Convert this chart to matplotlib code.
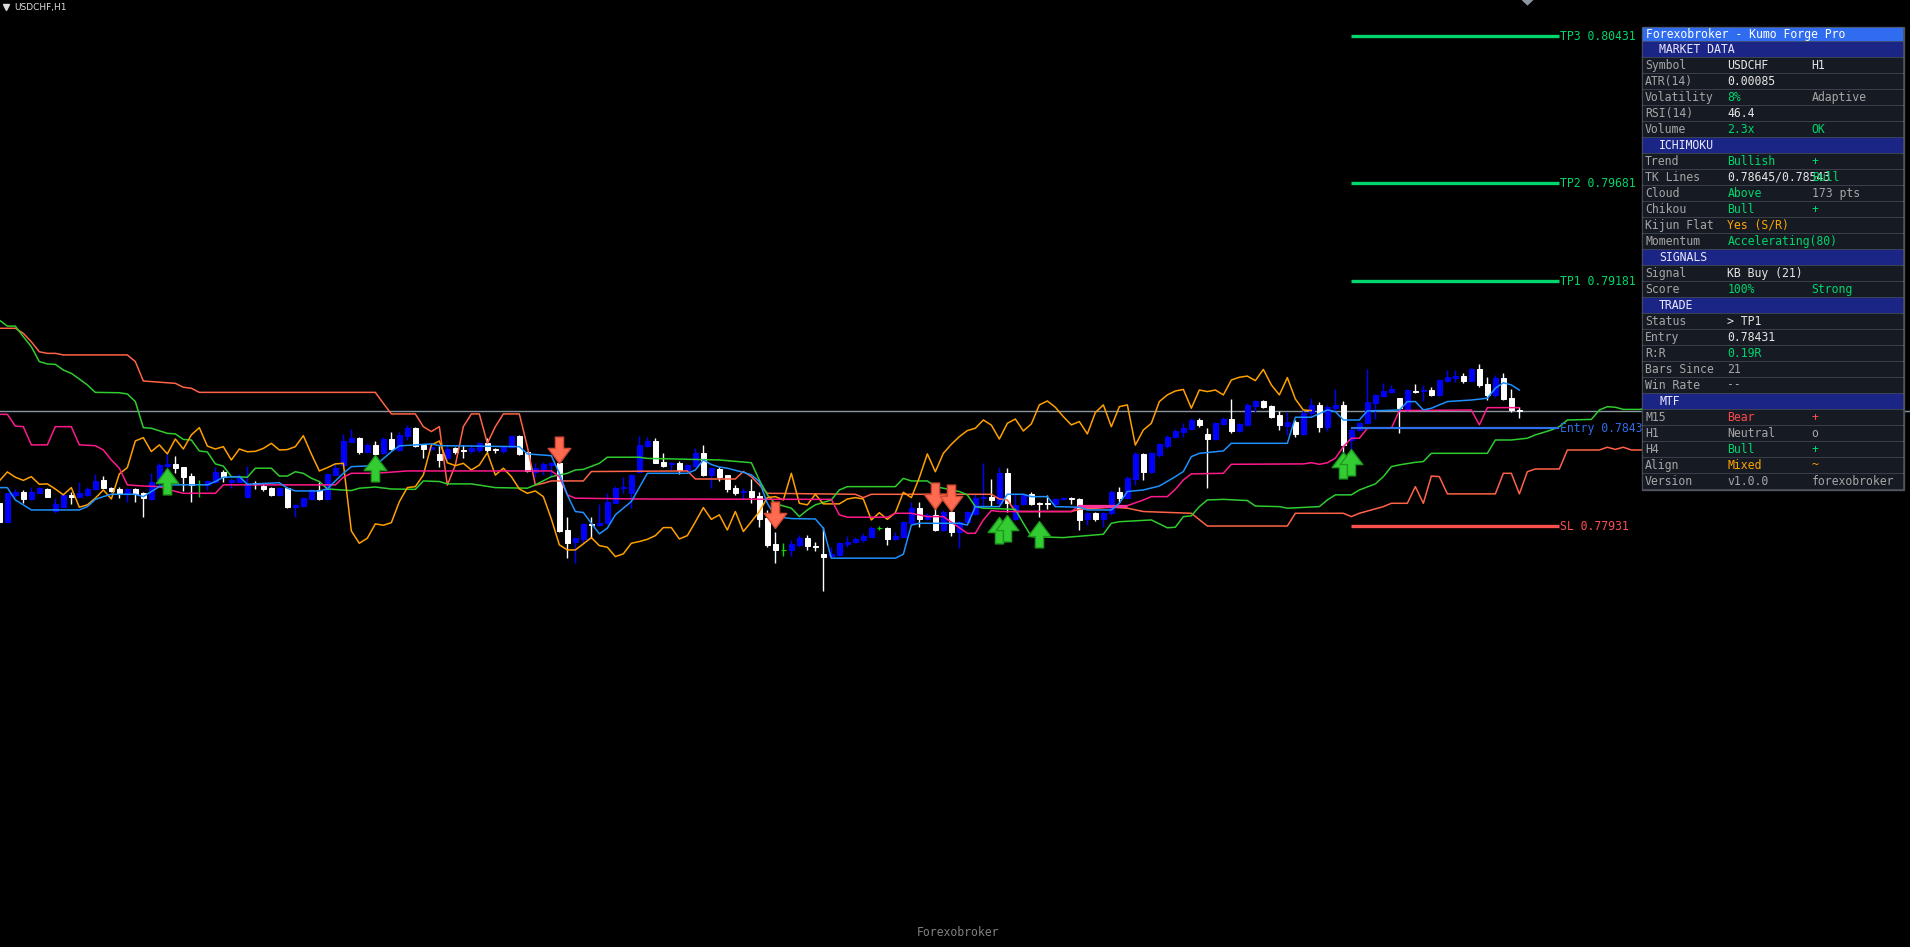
import numpy as np
import matplotlib.pyplot as plt
from matplotlib.path import Path
from matplotlib.patches import Rectangle, Polygon

plt.rcParams['font.family'] = ['DejaVu Sans Mono']

# USDCHF H1 candles, bar 0 = leftmost visible bar
opens = [
    0.78047, 0.77954, 0.78090, 0.78107, 0.78069, 0.78101, 0.78120, 0.78010, 0.78030, 0.78090,
    0.78081, 0.78090, 0.78118, 0.78166, 0.78124, 0.78120, 0.78093, 0.78120, 0.78098, 0.78069,
    0.78152, 0.78239, 0.78249, 0.78232, 0.78186, 0.78147, 0.78141, 0.78156, 0.78207, 0.78154,
    0.78158, 0.78078, 0.78152, 0.78137, 0.78127, 0.78090, 0.78127, 0.78030, 0.78035, 0.78069,
    0.78115, 0.78069, 0.78192, 0.78243, 0.78362, 0.78382, 0.78311, 0.78345, 0.78302, 0.78375,
    0.78319, 0.78390, 0.78433, 0.78344, 0.78324, 0.78297, 0.78276, 0.78327, 0.78319, 0.78314,
    0.78319, 0.78353, 0.78324, 0.78314, 0.78336, 0.78390, 0.78310, 0.78209, 0.78222, 0.78242,
    0.78251, 0.77911, 0.77852, 0.77863, 0.77942, 0.77935, 0.77945, 0.78050, 0.78125, 0.78098,
    0.78209, 0.78341, 0.78365, 0.78259, 0.78246, 0.78254, 0.78217, 0.78237, 0.78305, 0.78191,
    0.78222, 0.78191, 0.78127, 0.78105, 0.78110, 0.78084, 0.77971, 0.77840, 0.77809, 0.77809,
    0.77835, 0.77872, 0.77831, 0.77789, 0.77778, 0.77784, 0.77840, 0.77852, 0.77860, 0.77877,
    0.77923, 0.77923, 0.77865, 0.77874, 0.77948, 0.78025, 0.77965, 0.77988, 0.77911, 0.78005,
    0.77903, 0.77953, 0.77991, 0.78073, 0.78081, 0.78047, 0.78203, 0.77965, 0.78044, 0.78093,
    0.78050, 0.78047, 0.78044, 0.78069, 0.78076, 0.78069, 0.77965, 0.77999, 0.77965, 0.77996,
    0.78103, 0.78076, 0.78171, 0.78299, 0.78208, 0.78294, 0.78341, 0.78384, 0.78412, 0.78424,
    0.78472, 0.78401, 0.78375, 0.78452, 0.78477, 0.78416, 0.78447, 0.78545, 0.78569, 0.78543,
    0.78498, 0.78443, 0.78464, 0.78401, 0.78506, 0.78549, 0.78438, 0.78535, 0.78549, 0.78370,
    0.78421, 0.78455, 0.78560, 0.78594, 0.78615, 0.78583, 0.78523, 0.78622, 0.78620, 0.78625,
    0.78600, 0.78671, 0.78688, 0.78696, 0.78673, 0.78730, 0.78654, 0.78600, 0.78688, 0.78583,
    0.78523,
]
highs = [
    0.78050, 0.78100, 0.78118, 0.78115, 0.78129, 0.78132, 0.78127, 0.78073, 0.78101, 0.78107,
    0.78158, 0.78132, 0.78195, 0.78186, 0.78132, 0.78129, 0.78124, 0.78127, 0.78105, 0.78200,
    0.78251, 0.78309, 0.78288, 0.78234, 0.78200, 0.78166, 0.78166, 0.78234, 0.78217, 0.78175,
    0.78197, 0.78239, 0.78161, 0.78144, 0.78132, 0.78132, 0.78132, 0.78044, 0.78078, 0.78120,
    0.78158, 0.78200, 0.78251, 0.78399, 0.78426, 0.78387, 0.78353, 0.78365, 0.78387, 0.78409,
    0.78410, 0.78446, 0.78436, 0.78348, 0.78344, 0.78341, 0.78339, 0.78336, 0.78344, 0.78348,
    0.78358, 0.78378, 0.78327, 0.78339, 0.78395, 0.78395, 0.78310, 0.78251, 0.78259, 0.78259,
    0.78251, 0.77979, 0.77877, 0.77945, 0.77979, 0.78042, 0.78098, 0.78135, 0.78183, 0.78195,
    0.78390, 0.78387, 0.78378, 0.78302, 0.78259, 0.78263, 0.78248, 0.78327, 0.78344, 0.78231,
    0.78231, 0.78191, 0.78141, 0.78127, 0.78170, 0.78107, 0.78013, 0.77903, 0.77843, 0.77860,
    0.77886, 0.77886, 0.77852, 0.77928, 0.77826, 0.77852, 0.77880, 0.77877, 0.77894, 0.77931,
    0.77933, 0.77928, 0.77903, 0.77958, 0.78056, 0.78056, 0.77996, 0.78027, 0.78013, 0.78013,
    0.77958, 0.78010, 0.78093, 0.78251, 0.78171, 0.78234, 0.78226, 0.78098, 0.78101, 0.78106,
    0.78054, 0.78090, 0.78076, 0.78081, 0.78081, 0.78073, 0.78005, 0.78005, 0.78005, 0.78115,
    0.78129, 0.78186, 0.78311, 0.78305, 0.78307, 0.78353, 0.78396, 0.78424, 0.78455, 0.78481,
    0.78481, 0.78433, 0.78464, 0.78489, 0.78577, 0.78455, 0.78557, 0.78574, 0.78574, 0.78549,
    0.78518, 0.78515, 0.78472, 0.78523, 0.78583, 0.78566, 0.78549, 0.78630, 0.78569, 0.78430,
    0.78464, 0.78732, 0.78605, 0.78659, 0.78651, 0.78583, 0.78628, 0.78654, 0.78651, 0.78642,
    0.78680, 0.78727, 0.78727, 0.78713, 0.78735, 0.78758, 0.78693, 0.78702, 0.78710, 0.78628,
    0.78540,
]
lows = [
    0.77950, 0.77950, 0.78081, 0.78047, 0.78064, 0.78098, 0.78078, 0.77996, 0.78027, 0.78044,
    0.78078, 0.78086, 0.78115, 0.78124, 0.78103, 0.78073, 0.78056, 0.78052, 0.77976, 0.78064,
    0.78132, 0.78234, 0.78200, 0.78112, 0.78052, 0.78078, 0.78115, 0.78152, 0.78158, 0.78124,
    0.78154, 0.78073, 0.78120, 0.78112, 0.78086, 0.78086, 0.78022, 0.77976, 0.78030, 0.78064,
    0.78064, 0.78064, 0.78188, 0.78239, 0.78358, 0.78299, 0.78307, 0.78294, 0.78299, 0.78321,
    0.78316, 0.78370, 0.78336, 0.78280, 0.78314, 0.78231, 0.78263, 0.78299, 0.78280, 0.78305,
    0.78310, 0.78305, 0.78302, 0.78305, 0.78327, 0.78293, 0.78209, 0.78183, 0.78191, 0.78183,
    0.77903, 0.77767, 0.77741, 0.77843, 0.77869, 0.77933, 0.77942, 0.78047, 0.78098, 0.78022,
    0.78203, 0.78336, 0.78251, 0.78231, 0.78217, 0.78195, 0.78214, 0.78234, 0.78188, 0.78124,
    0.78163, 0.78107, 0.78090, 0.78067, 0.78050, 0.77928, 0.77826, 0.77744, 0.77778, 0.77778,
    0.77826, 0.77809, 0.77806, 0.77602, 0.77772, 0.77778, 0.77826, 0.77843, 0.77852, 0.77874,
    0.77911, 0.77835, 0.77860, 0.77870, 0.77945, 0.77925, 0.77962, 0.77908, 0.77908, 0.77880,
    0.77818, 0.77950, 0.77988, 0.78030, 0.78033, 0.78030, 0.78005, 0.77962, 0.78039, 0.78039,
    0.77976, 0.78016, 0.78039, 0.78066, 0.78044, 0.77911, 0.77936, 0.77958, 0.77928, 0.77988,
    0.78056, 0.78073, 0.78140, 0.78166, 0.78203, 0.78285, 0.78328, 0.78379, 0.78387, 0.78421,
    0.78438, 0.78127, 0.78370, 0.78447, 0.78404, 0.78409, 0.78441, 0.78515, 0.78532, 0.78484,
    0.78421, 0.78396, 0.78387, 0.78396, 0.78489, 0.78412, 0.78418, 0.78515, 0.78310, 0.78310,
    0.78418, 0.78452, 0.78475, 0.78588, 0.78608, 0.78404, 0.78520, 0.78608, 0.78569, 0.78596,
    0.78596, 0.78668, 0.78668, 0.78659, 0.78669, 0.78642, 0.78574, 0.78591, 0.78574, 0.78515,
    0.78484,
]
closes = [
    0.77954, 0.78098, 0.78107, 0.78069, 0.78107, 0.78127, 0.78081, 0.78044, 0.78090, 0.78081,
    0.78098, 0.78120, 0.78161, 0.78127, 0.78112, 0.78093, 0.78120, 0.78095, 0.78073, 0.78158,
    0.78243, 0.78249, 0.78229, 0.78183, 0.78139, 0.78147, 0.78161, 0.78207, 0.78180, 0.78164,
    0.78183, 0.78144, 0.78146, 0.78120, 0.78090, 0.78127, 0.78027, 0.78039, 0.78073, 0.78115,
    0.78069, 0.78197, 0.78229, 0.78365, 0.78382, 0.78311, 0.78345, 0.78299, 0.78375, 0.78324,
    0.78396, 0.78433, 0.78339, 0.78324, 0.78336, 0.78268, 0.78324, 0.78310, 0.78312, 0.78327,
    0.78353, 0.78319, 0.78321, 0.78336, 0.78392, 0.78299, 0.78212, 0.78229, 0.78248, 0.78251,
    0.77906, 0.77843, 0.77869, 0.77942, 0.77935, 0.77948, 0.78055, 0.78127, 0.78132, 0.78191,
    0.78344, 0.78365, 0.78254, 0.78239, 0.78251, 0.78217, 0.78242, 0.78305, 0.78191, 0.78226,
    0.78183, 0.78120, 0.78098, 0.78110, 0.78081, 0.77967, 0.77835, 0.77809, 0.77809, 0.77840,
    0.77872, 0.77831, 0.77823, 0.77775, 0.77789, 0.77843, 0.77852, 0.77863, 0.77882, 0.77923,
    0.77923, 0.77865, 0.77882, 0.77952, 0.78025, 0.77965, 0.77988, 0.77911, 0.78005, 0.77903,
    0.77953, 0.78005, 0.78076, 0.78081, 0.78064, 0.78200, 0.78047, 0.78039, 0.78093, 0.78044,
    0.78044, 0.78044, 0.78069, 0.78076, 0.78069, 0.77962, 0.77999, 0.77965, 0.77999, 0.78103,
    0.78076, 0.78178, 0.78299, 0.78208, 0.78302, 0.78348, 0.78387, 0.78418, 0.78430, 0.78472,
    0.78446, 0.78375, 0.78455, 0.78477, 0.78416, 0.78452, 0.78549, 0.78569, 0.78537, 0.78489,
    0.78447, 0.78464, 0.78401, 0.78510, 0.78549, 0.78438, 0.78540, 0.78549, 0.78344, 0.78421,
    0.78455, 0.78566, 0.78600, 0.78620, 0.78628, 0.78532, 0.78625, 0.78617, 0.78625, 0.78600,
    0.78676, 0.78690, 0.78696, 0.78673, 0.78730, 0.78651, 0.78600, 0.78688, 0.78579, 0.78523,
    0.78520,
]

# Ichimoku lines, read as vertices (bar, price in points of 1e-5)
tenkan_bars = [0, 1, 2, 3, 4, 10, 11, 12, 13, 14, 17, 18, 19, 20, 21, 26, 27, 28, 30, 31,
               35, 36, 37, 40, 41, 42, 43, 44, 47, 48, 49, 50, 54, 55, 65, 66, 69, 70, 71, 72,
               73, 74, 75, 76, 77, 78, 79, 81, 86, 87, 88, 89, 90, 91, 93, 94, 95, 96, 97, 99,
               102, 103, 104, 112, 113, 114, 115, 120, 121, 122, 125, 126, 128, 129, 131, 132,
               135, 136, 139, 140, 141, 143, 145, 147, 148, 149, 150, 153, 154, 161, 162, 164,
               166, 167, 168, 170, 171, 175, 176, 177, 178, 179, 181, 184, 186, 187, 188, 189, 190]
tenkan_pts = [78127, 78127, 78064, 78039, 78013, 78013, 78030, 78067, 78081, 78093,
              78093, 78081, 78107, 78132, 78141, 78141, 78158, 78180, 78183, 78144,
              78152, 78124, 78110, 78110, 78120, 78161, 78200, 78234, 78239, 78275,
              78310, 78340, 78350, 78341, 78336, 78299, 78290, 78200, 78090, 78005,
              78000, 77945, 77891, 77920, 77988, 78022, 78056, 78200, 78200, 78217,
              78268, 78245, 78232, 78226, 78205, 78192, 78158, 78047, 77979, 77969,
              77967, 77920, 77767, 77767, 77787, 77936, 77945, 77945, 77936, 78030,
              78030, 78093, 78093, 78081, 78081, 78030, 78027, 78013, 78013, 78047,
              78107, 78115, 78135, 78183, 78209, 78285, 78302, 78314, 78353, 78353,
              78486, 78486, 78523, 78515, 78472, 78472, 78518, 78523, 78566, 78566,
              78523, 78532, 78566, 78574, 78583, 78634, 78662, 78651, 78625]

kijun_bars = [0, 1, 2, 3, 4, 6, 7, 9, 10, 12, 13, 14, 15, 16, 18, 20, 21, 23, 27, 28,
              42, 43, 44, 47, 51, 69, 70, 71, 72, 80, 104, 105, 106, 111, 112, 114, 116, 118, 121, 122,
              123, 124, 125, 134, 135, 141, 143, 144, 146, 147, 148, 149, 153, 154, 163, 164, 165, 166, 167,
              168, 169, 170, 171, 174, 175, 184, 185, 186, 190]
kijun_pts = [78501, 78501, 78441, 78438, 78345, 78345, 78438, 78438, 78345, 78341,
             78319, 78268, 78226, 78141, 78135, 78132, 78118, 78098, 78098, 78141,
             78141, 78180, 78200, 78200, 78212, 78212, 78183, 78090, 78073, 78069,
             78067, 77988, 77976, 77976, 77996, 77996, 77979, 77979, 77894, 77894,
             77962, 78010, 78005, 78005, 78035, 78035, 78064, 78081, 78081, 78118,
             78166, 78197, 78200, 78246, 78248, 78254, 78246, 78254, 78277, 78336,
             78379, 78379, 78430, 78430, 78520, 78523, 78447, 78535, 78535]
kijun_flat_bars = [135, 141]
kijun_flat_price = 0.78035

span_a_bars = [0, 1, 2, 3, 4, 5, 6, 7, 8, 9, 10, 11, 12, 15, 16, 17, 18, 19, 21, 22,
               23, 24, 25, 26, 27, 28, 29, 31, 32, 34, 35, 36, 37, 38, 39, 40, 41, 44, 45, 47,
               49, 52, 53, 55, 56, 59, 62, 66, 67, 69, 71, 72, 73, 75, 76, 80, 81, 90, 94, 95,
               96, 97, 99, 100, 101, 102, 104, 105, 106, 112, 113, 114, 116, 117, 118, 120, 121, 122, 123, 127,
               128, 129, 133, 138, 139, 140, 144, 146, 147, 148, 149, 150, 151, 153, 156, 157, 160, 161, 165, 166,
               167, 169, 170, 172, 173, 174, 175, 177, 178, 179, 186, 187, 189, 191, 192, 194, 195, 196, 199, 200,
               201, 202, 203, 205, 206, 216]
span_a_pts = [78982, 78951, 78951, 78897, 78846, 78770, 78758, 78756, 78727, 78710,
              78681, 78651, 78613, 78611, 78605, 78566, 78433, 78430, 78404, 78401,
              78373, 78370, 78314, 78309, 78248, 78237, 78183, 78180, 78226, 78226,
              78186, 78186, 78208, 78200, 78175, 78158, 78120, 78112, 78124, 78130,
              78120, 78118, 78161, 78158, 78146, 78146, 78127, 78124, 78141, 78183,
              78200, 78217, 78220, 78251, 78282, 78282, 78276, 78268, 78254, 78166,
              78090, 78045, 78022, 77979, 78013, 78039, 78064, 78115, 78132, 78132,
              78174, 78161, 78161, 78132, 78124, 78107, 78090, 78030, 78022, 78016,
              77945, 77877, 77872, 77889, 77945, 77953, 77962, 77922, 77925, 77979,
              77983, 78030, 78064, 78067, 78061, 78033, 78030, 78022, 78030, 78064,
              78090, 78090, 78115, 78146, 78183, 78234, 78243, 78256, 78260, 78302,
              78302, 78370, 78370, 78379, 78396, 78421, 78438, 78472, 78475, 78523,
              78540, 78537, 78526, 78526, 78532, 78540]

span_b_bars = [0, 2, 3, 4, 5, 6, 7, 8, 16, 17, 18, 19, 22, 23, 24, 25, 47, 48, 49, 52,
               53, 54, 55, 56, 57, 58, 59, 60, 61, 62, 63, 65, 66, 67, 68, 69, 73, 74, 86, 87,
               92, 93, 94, 96, 107, 108, 109, 124, 125, 126, 127, 134, 135, 139, 141, 143, 147, 149, 151, 161,
               162, 168, 169, 170, 173, 174, 176, 177, 178, 179, 180, 181, 187, 188, 189, 190, 191, 192, 195, 196,
               200, 201, 202, 203, 204, 216]
span_b_pts = [78940, 78940, 78914, 78871, 78820, 78812, 78812, 78804, 78804, 78770,
              78671, 78668, 78659, 78639, 78634, 78613, 78613, 78557, 78503, 78503,
              78438, 78413, 78438, 78140, 78242, 78438, 78503, 78503, 78353, 78438,
              78503, 78503, 78336, 78140, 78149, 78161, 78161, 78209, 78212, 78171,
              78171, 78209, 78183, 78098, 78093, 78076, 78093, 78093, 78069, 78064,
              78005, 78005, 78016, 78027, 78022, 78005, 77999, 77996, 77931, 77931,
              77996, 77996, 77979, 77996, 78030, 78047, 78047, 78132, 78047, 78186,
              78183, 78095, 78095, 78200, 78200, 78095, 78208, 78222, 78222, 78319,
              78319, 78333, 78322, 78333, 78319, 78319]

chikou_shift = 26

# signal arrows (bar, tip price)
buy_bars = [21, 47, 125, 126, 130, 168, 169]
buy_prices = [0.78229, 0.78294, 0.77979, 0.77987, 0.77958, 0.78310, 0.78323]
sell_bars = [70, 97, 117, 119]
sell_prices = [0.78253, 0.77921, 0.78018, 0.78008]

# trade levels
level_names = ["TP3", "TP2", "TP1", "Entry", "SL"]
level_prices = [0.80431, 0.79681, 0.79181, 0.78431, 0.77931]
signal_bar = 169
level_end_bar = 195

GREEN = '#00d66b'
WHITE = '#e6e6e6'
GRAY = '#a6a6a6'
ORANGE = '#ffa500'
RED = '#ff4a4a'

panel_title = "Forexobroker - Kumo Forge Pro"
panel_rows = [
    ("MARKET DATA", None, None, None, None),
    ("Symbol", "USDCHF", "H1", WHITE, WHITE),
    ("ATR(14)", "0.00085", "", WHITE, WHITE),
    ("Volatility", "8%", "Adaptive", GREEN, GRAY),
    ("RSI(14)", "46.4", "", WHITE, WHITE),
    ("Volume", "2.3x", "OK", GREEN, GREEN),
    ("ICHIMOKU", None, None, None, None),
    ("Trend", "Bullish", "+", GREEN, GREEN),
    ("TK Lines", "0.78645/0.78543", "Bull", WHITE, GREEN),
    ("Cloud", "Above", "173 pts", GREEN, GRAY),
    ("Chikou", "Bull", "+", GREEN, GREEN),
    ("Kijun Flat", "Yes (S/R)", "", ORANGE, ORANGE),
    ("Momentum", "Accelerating(80)", "", GREEN, GREEN),
    ("SIGNALS", None, None, None, None),
    ("Signal", "KB Buy (21)", "", WHITE, WHITE),
    ("Score", "100%", "Strong", GREEN, GREEN),
    ("TRADE", None, None, None, None),
    ("Status", "> TP1", "", WHITE, WHITE),
    ("Entry", "0.78431", "", WHITE, WHITE),
    ("R:R", "0.19R", "", GREEN, GREEN),
    ("Bars Since", "21", "", GRAY, GRAY),
    ("Win Rate", "--", "", GRAY, GRAY),
    ("MTF", None, None, None, None),
    ("M15", "Bear", "+", RED, RED),
    ("H1", "Neutral", "o", GRAY, GRAY),
    ("H4", "Bull", "+", GREEN, GREEN),
    ("Align", "Mixed", "~", ORANGE, ORANGE),
    ("Version", "v1.0.0", "forexobroker", GRAY, GRAY),
]

# ---------------------------------------------------------------
fig = plt.figure(figsize=(19.1, 9.47), dpi=100, facecolor='black')
ax = fig.add_axes([0, 0, 1, 1])
ax.set_facecolor('black')
ax.set_xlim(0.084, 238.83)
ax.set_ylim(0.75783, 0.80615)
ax.axis('off')

x = np.arange(len(opens))
o = np.array(opens)
h = np.array(highs)
l = np.array(lows)
c = np.array(closes)
cols = np.where(c > o, '#0000ff', np.where(c < o, '#ffffff', '#00e000'))

# current price line
ax.axhline(c[-1], color='#8a96a2', lw=1.0, zorder=1)

ax.vlines(x, l, h, colors=cols, lw=1.0, zorder=2)
ax.bar(x, c - o, bottom=o, width=0.62, color=cols, edgecolor=cols, linewidth=0.7, zorder=3)

ax.plot(span_b_bars, np.array(span_b_pts) / 1e5, color='#ff6347', lw=1.1, zorder=4)
ax.plot(span_a_bars, np.array(span_a_pts) / 1e5, color='#2ecc2e', lw=1.1, zorder=4)
ax.plot(x[:-chikou_shift], c[chikou_shift:], color='#ffa000', lw=1.1, zorder=4)
ax.plot(kijun_bars, np.array(kijun_pts) / 1e5, color='#ff1a8c', lw=1.1, zorder=4)
ax.hlines(kijun_flat_price, kijun_flat_bars[0], kijun_flat_bars[1], color='#ff3399', lw=2.2, zorder=4)
ax.plot(tenkan_bars, np.array(tenkan_pts) / 1e5, color='#1e90ff', lw=1.1, zorder=4)

# fat arrows, tip at the marker origin
up = Path([(0, 0), (10.5, -14), (3.8, -14), (3.8, -24.5), (-3.8, -24.5), (-3.8, -14), (-10.5, -14), (0, 0)],
          [Path.MOVETO] + [Path.LINETO] * 6 + [Path.CLOSEPOLY])
down = Path([(0, 0), (10.5, 14), (3.8, 14), (3.8, 24.5), (-3.8, 24.5), (-3.8, 14), (-10.5, 14), (0, 0)],
            [Path.MOVETO] + [Path.LINETO] * 6 + [Path.CLOSEPOLY])
ax.plot(buy_bars, buy_prices, ls='none', marker=up, ms=38,
        mfc='#33cc33', mec='#1f9a1f', mew=1.0, zorder=6)
ax.plot(sell_bars, sell_prices, ls='none', marker=down, ms=38,
        mfc='#ff6a50', mec='#d04a33', mew=1.0, zorder=6)

# trade levels
level_colors = [GREEN, GREEN, GREEN, '#2f6fe8', '#ff5050']
level_widths = [2.4, 2.4, 2.4, 1.6, 2.4]
for name, p, col, w in zip(level_names, level_prices, level_colors, level_widths):
    ax.hlines(p, signal_bar, level_end_bar, color=col, lw=w, zorder=5)
    ax.text(level_end_bar + 0.05, p, f"{name} {p:.5f}", color=col, fontsize=8.3,
            va='center', ha='left', zorder=5)

# ---------------------------------------------------------------
# overlay in pixel coordinates for the info panel and captions
pax = fig.add_axes([0, 0, 1, 1])
pax.set_xlim(0, 1910)
pax.set_ylim(947, 0)
pax.axis('off')

pax.add_patch(Polygon([(1522.5, 0), (1532.5, 0), (1527.5, 4.7)], closed=True,
                      color='#8c96a0', zorder=3))
pax.plot(5.5, 7, marker='v', ms=4, color='#dcdcdc', zorder=3)
pax.text(14, 7, "USDCHF,H1", color='#dcdcdc', fontsize=6.5, family=['DejaVu Sans'],
         va='center', ha='left')
pax.text(958, 932, "Forexobroker", color='#808080', fontsize=8.3, va='center', ha='center')

px0, px1 = 1641.5, 1903.5
pax.add_patch(Rectangle((px0, 26.5), px1 - px0, 463.5, color='#50545a', zorder=10))
pax.add_patch(Rectangle((px0 + 1.5, 28.3), px1 - px0 - 3, 11.9, color='#2f6cf0', zorder=11))
pax.text(px0 + 4.5, 34.3, panel_title, color='white', fontsize=8.3, va='center', ha='left', zorder=12)

for i, (lab, val, ext, vc, ec) in enumerate(panel_rows):
    top = 41.7 + 16 * i
    mid = top + 7.3
    if val is None:
        pax.add_patch(Rectangle((px0 + 1.5, top), px1 - px0 - 3, 14.6, color='#1b2585', zorder=11))
        pax.text(px0 + 17.5, mid, lab, color='#e8e8ff', fontsize=8.3, va='center', ha='left', zorder=12)
        continue
    pax.add_patch(Rectangle((px0 + 1.5, top), px1 - px0 - 3, 14.6, color='#161a22', zorder=11))
    pax.text(px0 + 3.5, mid, lab, color=GRAY, fontsize=8.3, va='center', ha='left', zorder=12)
    pax.text(px0 + 85.8, mid, val, color=vc, fontsize=8.3, va='center', ha='left', zorder=12)
    if ext:
        pax.text(px0 + 170.2, mid, ext, color=ec, fontsize=8.3, va='center', ha='left', zorder=12)

fig.savefig('out.png', dpi=100, facecolor='black')
